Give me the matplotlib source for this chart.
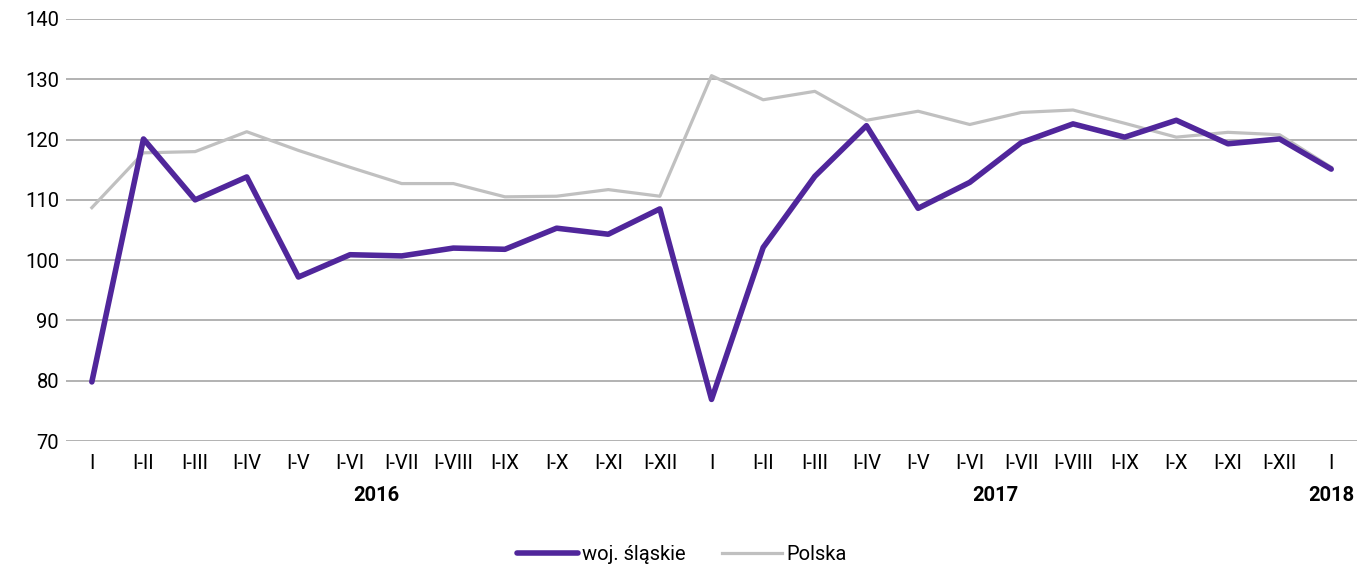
import matplotlib.pyplot as plt

# ==== dane ====
labels = ["I", "I-II", "I-III", "I-IV", "I-V", "I-VI", "I-VII", "I-VIII", "I-IX", "I-X", "I-XI", "I-XII",
          "I", "I-II", "I-III", "I-IV", "I-V", "I-VI", "I-VII", "I-VIII", "I-IX", "I-X", "I-XI", "I-XII",
          "I"]
years = ["2016", "2017", "2018"]
year_pos = [5.5, 17.5, 24]

slaskie = [79.8, 120.1, 110.0, 113.8, 97.2, 100.9, 100.7, 102.0, 101.8, 105.3, 104.3, 108.5,
           76.9, 102.1, 113.9, 122.3, 108.6, 112.9, 119.5, 122.6, 120.4, 123.2, 119.3, 120.1,
           115.1]
polska = [108.7, 117.8, 118.0, 121.3, 118.2, 115.4, 112.7, 112.7, 110.5, 110.6, 111.7, 110.6,
          130.6, 126.6, 128.0, 123.2, 124.7, 122.5, 124.5, 124.9, 122.7, 120.4, 121.2, 120.8,
          115.4]

plt.rcParams['font.family'] = ['Roboto', 'DejaVu Sans']

fig = plt.figure(figsize=(13.64, 5.7), dpi=100)
ax = fig.add_axes([0.0484, 0.2263, 0.9465, 0.7404])

x = list(range(len(labels)))
ax.plot(x, polska, color='#c0c0c0', lw=2.3, label='Polska', zorder=3)
ax.plot(x, slaskie, color='#50269b', lw=4.0, label='woj. śląskie', zorder=4,
        solid_capstyle='round')

ax.set_ylim(70, 140)
ax.set_yticks(range(70, 141, 10))
ax.set_xlim(-0.5, len(labels) - 0.5)
ax.set_xticks(x)
ax.set_xticklabels(labels)
ax.tick_params(axis='both', length=0, labelsize=14.5, colors='#000000')
ax.tick_params(axis='x', pad=9)
ax.tick_params(axis='y', pad=5)
ax.grid(axis='y', color='#a6a6a6', lw=1.2)
ax.set_axisbelow(True)
for s in ax.spines.values():
    s.set_visible(False)

for yr, p in zip(years, year_pos):
    ax.text(p, -0.13, yr, transform=ax.get_xaxis_transform(), ha='center', va='center',
            fontsize=14.5, fontweight='bold')

handles, labs = ax.get_legend_handles_labels()
fig.legend(handles[::-1], labs[::-1], loc='center', bbox_to_anchor=(0.5, 0.027), ncol=2,
           frameon=False, fontsize=14.5, handlelength=3.0, handletextpad=0.2, columnspacing=1.8)

fig.savefig('out.png', dpi=100)
